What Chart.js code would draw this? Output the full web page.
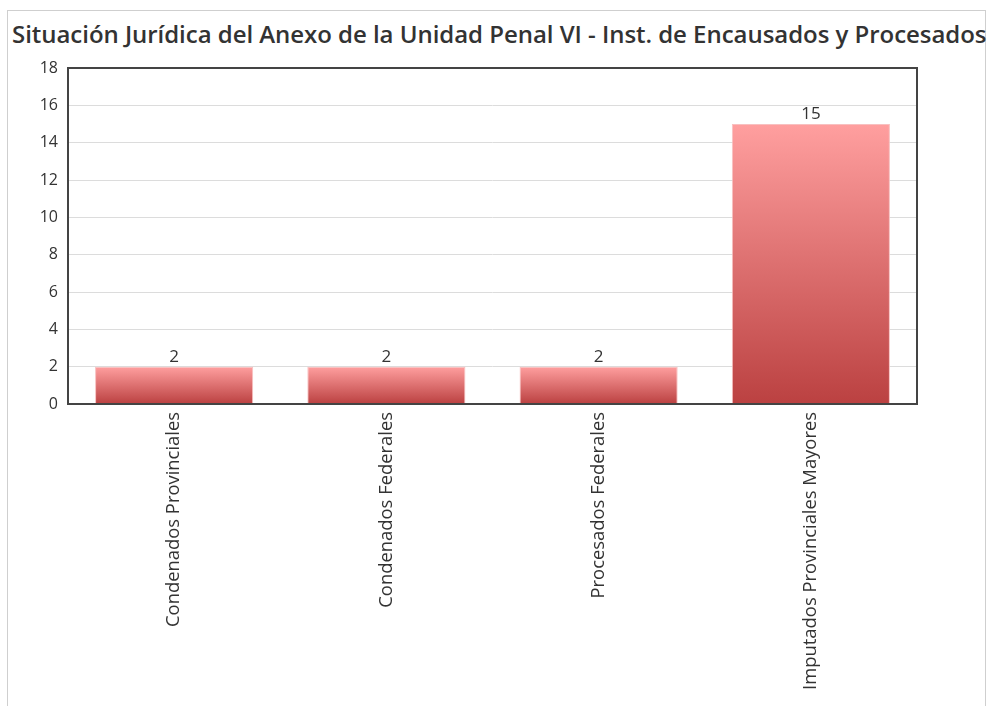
<!DOCTYPE html>
<html lang="es">
<head>
    <meta charset="UTF-8">
    <title>Situación Jurídica</title>
    <style>
        body { margin: 0; background: #fff; }
        .panel {
            position: absolute; left: 7px; top: 10px; width: 979px; height: 720px;
            border: 1px solid #cfcfcf; box-sizing: border-box;
        }
        .titulo {
            position: absolute; left: 12px; top: 17px; margin: 0;
            font-family: "Open Sans", sans-serif; font-weight: 600; font-size: 24px;
            color: #333; white-space: nowrap; line-height: 34px; letter-spacing: -0.04px;
        }
        #grafico { position: absolute; left: 0; top: 0; }
    </style>
</head>
<body>
    <div class="panel"></div>
    <h1 class="titulo">Situación Jurídica del Anexo de la Unidad Penal VI - Inst. de Encausados y Procesados</h1>
    <canvas id="grafico" width="991" height="706"></canvas>

    <script src="https://cdn.jsdelivr.net/npm/chart.js"></script>
    <script>
        const categorias = ['Condenados Provinciales', 'Condenados Federales', 'Procesados Federales', 'Imputados Provinciales Mayores'];
        const valores = [2, 2, 2, 15];
        const ejeY = { min: 0, max: 18, paso: 2 };

        // etiquetas de valor encima de cada barra
        const etiquetas = {
            id: 'etiquetas',
            afterDatasetsDraw(chart) {
                const ctx = chart.ctx;
                ctx.save();
                ctx.font = '17px "Open Sans", sans-serif';
                ctx.fillStyle = '#333';
                ctx.textAlign = 'center';
                ctx.textBaseline = 'bottom';
                chart.getDatasetMeta(0).data.forEach((bar, i) => {
                    ctx.fillText(valores[i], bar.x, bar.y - 1);
                });
                ctx.restore();
            }
        };

        // marco alrededor del area del grafico
        const marco = {
            id: 'marco',
            afterDraw(chart) {
                const a = chart.chartArea;
                const ctx = chart.ctx;
                ctx.save();
                ctx.strokeStyle = '#444';
                ctx.lineWidth = 2;
                ctx.strokeRect(a.left, a.top, a.right - a.left, a.bottom - a.top);
                ctx.restore();
            }
        };

        function degradado(context) {
            const chart = context.chart;
            if (!chart.chartArea || context.type !== 'data') return '#d06060';
            const y = chart.scales.y;
            const top = y.getPixelForValue(context.raw);
            const base = y.getPixelForValue(0);
            const g = chart.ctx.createLinearGradient(0, top, 0, base);
            g.addColorStop(0, '#ff9f9f');
            g.addColorStop(1, '#bb4141');
            return g;
        }

        new Chart(document.getElementById('grafico'), {
            type: 'bar',
            data: {
                labels: categorias,
                datasets: [{
                    data: valores,
                    backgroundColor: degradado,
                    borderColor: '#f8c0c0',
                    borderWidth: 1,
                    categoryPercentage: 0.745,
                    barPercentage: 1
                }]
            },
            options: {
                responsive: false,
                animation: false,
                layout: { padding: { left: 0, top: 68, right: 74, bottom: 0 } },
                plugins: {
                    legend: { display: false },
                    tooltip: { enabled: false }
                },
                scales: {
                    x: {
                        grid: { display: false, drawTicks: false },
                        border: { display: false },
                        ticks: {
                            minRotation: 90, maxRotation: 90, autoSkip: false, padding: 8,
                            color: '#333', font: { family: 'Open Sans', size: 18.4 }
                        },
                        afterFit(scale) { scale.height = 302; }
                    },
                    y: {
                        min: ejeY.min, max: ejeY.max,
                        grid: { color: '#dcdcdc', lineWidth: 1, drawTicks: false },
                        border: { display: false },
                        ticks: {
                            stepSize: ejeY.paso, padding: 10,
                            color: '#333', font: { family: 'Open Sans', size: 16 }
                        },
                        afterFit(scale) { scale.width = 68; }
                    }
                }
            },
            plugins: [etiquetas, marco]
        });
    </script>
</body>
</html>
